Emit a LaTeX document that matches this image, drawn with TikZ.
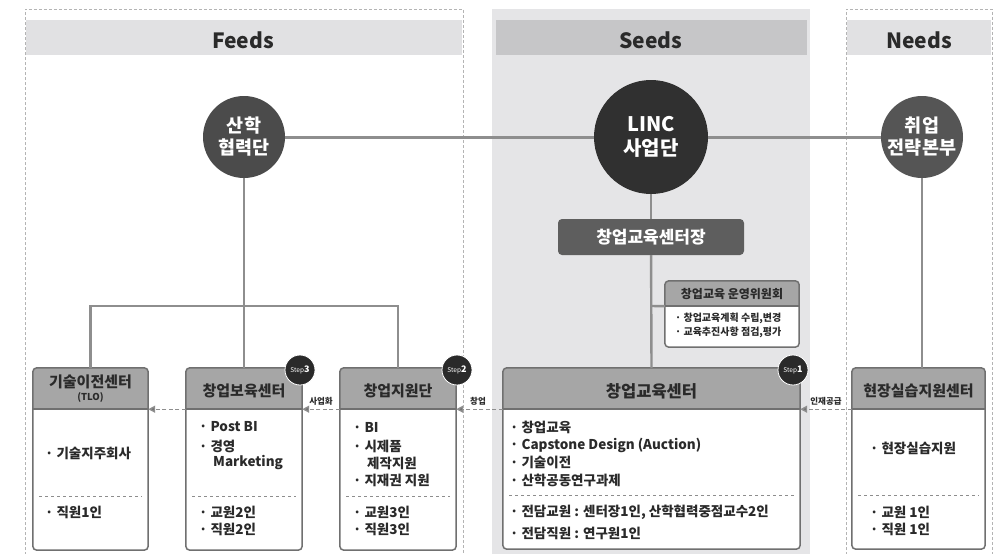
\documentclass[tikz,border=0pt]{standalone}
\usepackage{fontspec}
\setmainfont{Noto Sans CJK KR}
\usetikzlibrary{arrows.meta,fit}

\definecolor{seedbg}{HTML}{E5E5E7}
\definecolor{seedhd}{HTML}{C6C6C8}
\definecolor{sidehd}{HTML}{E1E1E3}
\definecolor{panelbd}{HTML}{B4B4B4}
\definecolor{boxhd}{HTML}{A6A6A6}
\definecolor{boxbd}{HTML}{707070}
\definecolor{linec}{HTML}{8E8E8E}
\definecolor{txt}{HTML}{2A2A2A}
\definecolor{circA}{HTML}{4B4B4B}
\definecolor{circB}{HTML}{303030}
\definecolor{circC}{HTML}{555555}
\definecolor{dirc}{HTML}{5E5E5E}
\definecolor{badgec}{HTML}{2A2A2A}

\tikzset{
  panel/.style={draw=panelbd, densely dashed, line width=0.6pt},
  paneltitle/.style={text=txt, font=\fontsize{21}{21}\selectfont\bfseries},
  orgcircle/.style={circle, text=white, align=center, inner sep=0pt,
     font=\fontsize{18.5}{22}\selectfont\bfseries},
  conn/.style={draw=linec, line width=2.4pt},
  mainconn/.style={draw=linec, line width=3pt},
  boxc/.style={inner sep=0pt, fill=white},
  hdrc/.style={inner sep=0pt, fill=boxhd},
  bord/.style={draw=boxbd, line width=1.5pt},
  hdrtext/.style={text=txt, font=\fontsize{15}{16}\selectfont\bfseries, align=center},
  bodytext/.style={text=txt, anchor=west, inner sep=0pt, font=\fontsize{13.5}{15}\selectfont\bfseries},
  divider/.style={draw=boxbd!80, dashed, line width=0.9pt},
  badge/.style={circle, fill=badgec, draw=white, line width=0.8pt, minimum size=30pt, inner sep=0pt, text=white},
  darrow/.style={draw=linec, line width=1.4pt, dash pattern=on 4pt off 2.5pt,
     -{Triangle[length=7pt,width=7pt,fill=boxbd]}},
  lbl/.style={text=txt, inner sep=0pt, font=\fontsize{8.5}{9}\selectfont\bfseries},
}

\newcommand\orgbox[6]{%
  \node[boxc, fit={(#2,#3)(#4,#5)}] (#1) {};
  \begin{scope}
    \clip[rounded corners=4pt] (#1.south west) rectangle (#1.north east);
    \node[hdrc, fit={(#2,#3)(#4,#6)}] (#1h) {};
  \end{scope}
  \draw[bord, rounded corners=4pt] (#1.south west) rectangle (#1.north east);
  \draw[bord] (#1h.south west) -- (#1h.south east);
}

\begin{document}
\begin{tikzpicture}[x=1pt, y=-1pt]
\useasboundingbox (0,0) rectangle (997,554);
\fill[white] (0,0) rectangle (997,554);

% panels
\draw[panel] (25,560) -- (25,9) -- (463,9) -- (463,560);
\fill[sidehd] (26,20) rectangle (462,55);
\node[paneltitle] (tfeeds) at (243,40) {Feeds};

\fill[seedbg] (492,9) rectangle (810,560);
\fill[seedhd] (496,20) rectangle (807,55);
\node[paneltitle] (tseeds) at (651,40) {Seeds};

\draw[panel] (846,560) -- (846,9) -- (992,9) -- (992,560);
\fill[sidehd] (847,20) rectangle (991,55);
\node[paneltitle] (tneeds) at (919,40) {Needs};

% circles
\node[orgcircle, fill=circA, minimum size=82pt] (sanhak) at (244,137) {산학\\협력단};
\node[orgcircle, fill=circB, minimum size=114pt, font=\fontsize{20}{24}\selectfont\bfseries] (linc) at (651,137) {LINC\\사업단};
\node[orgcircle, fill=circC, minimum size=82pt] (job) at (922,137) {취업\\전략본부};

\draw[mainconn] (sanhak) -- (linc);
\draw[mainconn] (linc) -- (job);

% director
\node[fill=dirc, rounded corners=4pt, minimum width=186pt, minimum height=36pt, inner sep=0pt,
      text=white, font=\fontsize{17}{19}\selectfont\bfseries] (cdir) at (651,237) {창업교육센터장};

% boxes
\orgbox{tlo}{33}{368}{148}{550}{409}
\orgbox{sup}{186}{368}{302}{550}{409}
\orgbox{cja}{340}{368}{456}{550}{409}
\orgbox{edu}{503}{368}{800}{549}{409}
\orgbox{field}{852}{368}{985}{549}{409}
\orgbox{comm}{665}{281}{799}{347}{306}

% connectors
\coordinate (fj) at (244,306);
\draw[conn] (sanhak) -- (sup.north);
\draw[conn] (tlo.north) |- (fj) -| (cja.north);
\draw[conn] (linc) -- (cdir);
\draw[conn] (cdir) -- (edu.north);
\coordinate (cj) at (651,306);
\draw[conn] (cj) -- (commh.south west);
\draw[conn] (job) -- (job |- field.north);

% dashed arrows
\draw[darrow] (fieldh.south west) -- (eduh.south east);
\draw[darrow] (eduh.south west) -- (cjah.south east);
\draw[darrow] (cjah.south west) -- (suph.south east);
\draw[darrow] (suph.south west) -- (tloh.south east);
\node[lbl] (l1) at (826,401) {인재공급};
\node[lbl] (l2) at (478,401) {창업};
\node[lbl] (l3) at (321,401) {사업화};

% headers
\node[hdrtext, align=center] (tloT) at (90.5,389) {기술이전센터\\[-3pt]{\fontsize{9.5}{10}\selectfont (TLO)}};
\node[hdrtext] (supT) at (244,391) {창업보육센터};
\node[hdrtext] (cjaT) at (398,391) {창업지원단};
\node[hdrtext, font=\fontsize{16.5}{18}\selectfont\bfseries] (eduT) at (651.5,391) {창업교육센터};
\node[hdrtext] (fieldT) at (918.5,391) {현장실습지원센터};
\node[hdrtext, font=\fontsize{12}{13}\selectfont\bfseries] (commT) at (732,294) {창업교육 운영위원회};

% badges
\node[badge] (st3) at (300,370) {\fontsize{6.5}{7}\selectfont Step\fontsize{9}{9}\selectfont\bfseries 3};
\node[badge] (st2) at (457,370) {\fontsize{6.5}{7}\selectfont Step\fontsize{9}{9}\selectfont\bfseries 2};
\node[badge] (st1) at (793,370) {\fontsize{6.5}{7}\selectfont Step\fontsize{9}{9}\selectfont\bfseries 1};

% dividers
\draw[divider] (39,496) -- (142,496);
\draw[divider] (192,496) -- (296,496);
\draw[divider] (346,496) -- (450,496);
\draw[divider] (509,495) -- (794,495);
\draw[divider] (858,495) -- (979,495);

% body texts
\node[bodytext] (b1) at (45,453) {· 기술지주회사};
\node[bodytext] (b2) at (45,512) {· 직원1인};

\node[bodytext] (b3) at (199,427) {· Post BI};
\node[bodytext] (b4) at (199,446) {· 경영};
\node[bodytext] (b5) at (213,463) {Marketing};
\node[bodytext] (b6) at (199,512) {· 교원2인};
\node[bodytext] (b7) at (199,529) {· 직원2인};

\node[bodytext] (b8) at (353,427) {· BI};
\node[bodytext] (b9) at (353,446) {· 시제품};
\node[bodytext] (b10) at (367,463) {제작지원};
\node[bodytext] (b11) at (353,480) {· 지재권 지원};
\node[bodytext] (b12) at (353,512) {· 교원3인};
\node[bodytext] (b13) at (353,529) {· 직원3인};

\node[bodytext] (b14) at (510,427) {· 창업교육};
\node[bodytext] (b15) at (510,445) {· Capstone Design (Auction)};
\node[bodytext] (b16) at (510,462) {· 기술이전};
\node[bodytext] (b17) at (510,480) {· 산학공동연구과제};
\node[bodytext] (b18) at (510,512) {· 전담교원 : 센터장1인, 산학협력중점교수2인};
\node[bodytext] (b19) at (510,533) {· 전담직원 : 연구원1인};

\node[bodytext] (b20) at (870,448) {· 현장실습지원};
\node[bodytext] (b21) at (870,512) {· 교원 1인};
\node[bodytext] (b22) at (870,529) {· 직원 1인};

\node[bodytext, font=\fontsize{10}{11}\selectfont\bfseries] (c1) at (675,318) {· 창업교육계획 수립,변경};
\node[bodytext, font=\fontsize{10}{11}\selectfont\bfseries] (c2) at (675,332) {· 교육추진사항 점검,평가};
\end{tikzpicture}
\end{document}
